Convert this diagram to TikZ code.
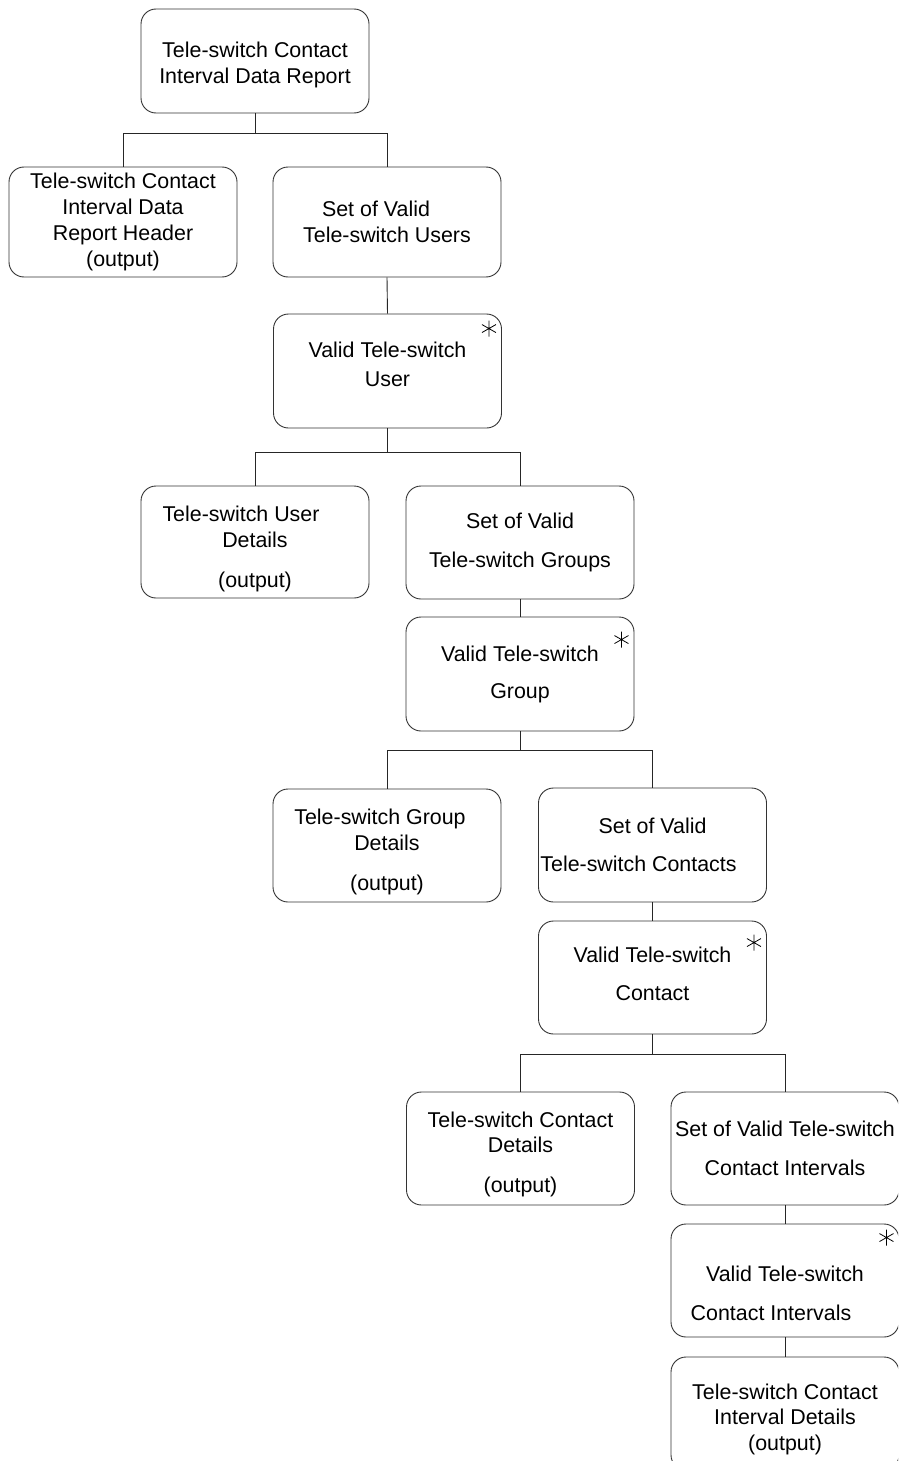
\documentclass[tikz,border=0pt]{standalone}
\usepackage{fontspec}
\setmainfont{Liberation Sans}
\usepackage{tikz}
\usetikzlibrary{positioning}

% repeated asterisk in the upper right corner of an iterated box
\newcommand{\itermark}[2]{%
  \draw[markline] ([shift={(-13,#2)}]#1.north east) ++(0,-8) -- ++(0,16)
    ++(-7,-12) -- ++(14,8) ++(-14,0) -- ++(14,-8);}
% a line of box text set a little left of centre
\newcommand{\offleft}[2]{\makebox[0pt]{#2\hspace*{#1}}}

\begin{document}
\begin{tikzpicture}[x=1pt, y=-1pt,
    box/.style={draw=black!80, line width=0.9pt, rounded corners=15pt,
      minimum width=228pt, minimum height=113pt, inner sep=2pt, align=center,
      font=\fontsize{21.4}{26}\selectfont},
    link/.style={draw=black!85, line width=0.9pt},
    markline/.style={black, line width=0.8pt}]
    \clip (0,0) rectangle (898,1461);

    % top level
    \node[box, minimum height=104pt] (report) at (255,61) {\mbox{}\\[-2pt]Tele-switch Contact\\Interval Data Report};
    \node[box, minimum height=110pt] (hdr) at (123,222) {Tele-switch Contact\\Interval Data\\Report Header\\(output)};
    \node[box, minimum height=110pt] (users) at (387,222) {\offleft{22pt}{Set of Valid}\\Tele-switch Users};

    % user level
    \node[box, minimum height=114pt] (user) at (387.5,371) {Valid Tele-switch\\[3pt]User\\[-13pt]\mbox{}};
    \node[box, minimum height=112pt] (usrdet) at (255,542) {\mbox{}\\[4pt]\offleft{28pt}{Tele-switch User}\\Details\\[14pt](output)};
    \node[box] (groups) at (520,542.5) {Set of Valid\\[13pt]Tele-switch Groups};

    % group level
    \node[box, minimum height=114pt] (group) at (520,674) {Valid Tele-switch\\[11pt]Group};
    \node[box] (grpdet) at (387,845.5) {\mbox{}\\[2pt]\offleft{14pt}{Tele-switch Group}\\Details\\[14pt](output)};
    \node[box, minimum height=114pt] (contacts) at (652.5,845) {Set of Valid\\[12pt]\offleft{28pt}{Tele-switch Contacts}};

    % contact level
    \node[box] (contact) at (652.5,977.5) {Valid Tele-switch\\[12pt]Contact\\[-19pt]\mbox{}};
    \node[box] (condet) at (520.5,1148.5) {\mbox{}\\[2pt]Tele-switch Contact\\[-1pt]Details\\[14pt](output)};
    \node[box] (intervals) at (785,1148.5) {Set of Valid Tele-switch\\[13pt]Contact Intervals};

    % interval level
    \node[box] (interval) at (785,1280.5) {\mbox{}\\[16pt]Valid Tele-switch\\[13pt]\offleft{28pt}{Contact Intervals}};
    \node[box] (intdet) at (785,1413.5) {\mbox{}\\[2pt]Tele-switch Contact\\[-1pt]Interval Details\\(output)};

    % connectors
    \draw[link] (report.south) -- ++(0,20) -| (hdr.north);
    \draw[link] (report.south) -- ++(0,20) -| (users.north);
    \draw[link] (users.south) -- (user.north);
    \draw[link] (user.south) -- ++(0,24) -| (usrdet.north);
    \draw[link] (user.south) -- ++(0,24) -| (groups.north);
    \draw[link] (groups.south) -- (group.north);
    \draw[link] (group.south) -- ++(0,19) -| (grpdet.north);
    \draw[link] (group.south) -- ++(0,19) -| (contacts.north);
    \draw[link] (contacts.south) -- (contact.north);
    \draw[link] (contact.south) -- ++(0,20) -| (condet.north);
    \draw[link] (contact.south) -- ++(0,20) -| (intervals.north);
    \draw[link] (intervals.south) -- (interval.north);
    \draw[link] (interval.south) -- (intdet.north);

    % iteration marks
    \itermark{user}{15}
    \itermark{group}{23}
    \itermark{contact}{22}
    \itermark{interval}{14}
\end{tikzpicture}
\end{document}
